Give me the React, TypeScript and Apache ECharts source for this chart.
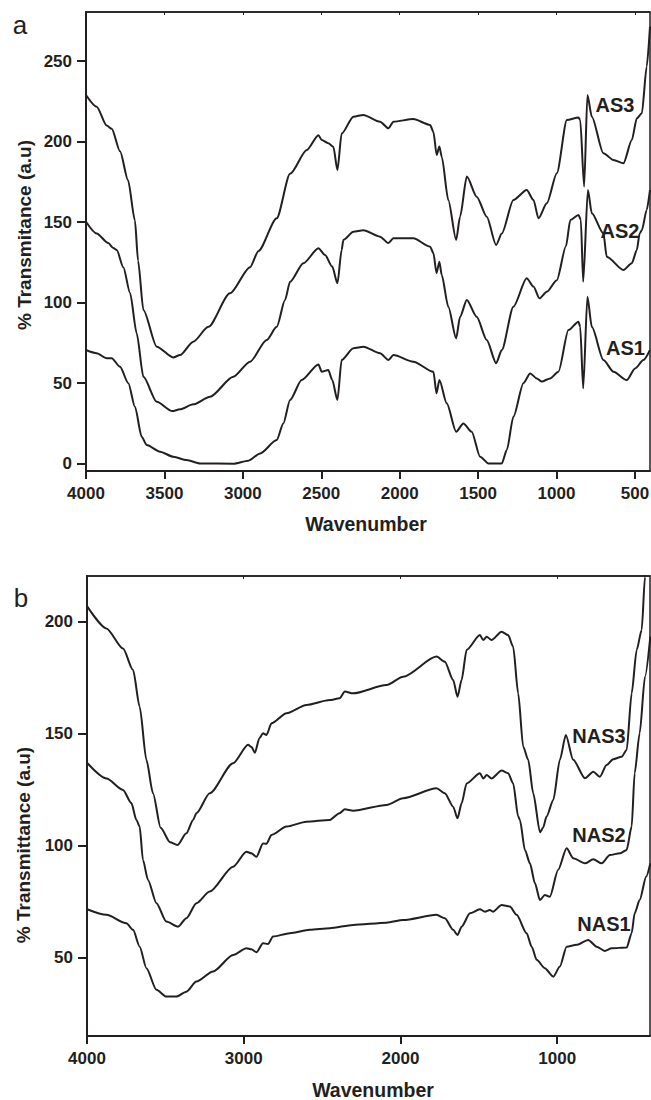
import React, { useEffect, useRef } from "react";
import * as echarts from "echarts";

// ---------- Panel a data (wavenumber, % transmittance) ----------
const as3Wn = [4000, 3932, 3868, 3836, 3783, 3732, 3688, 3668, 3634, 3549, 3444, 3400, 3316, 3220, 3082, 2954, 2901, 2784, 2699, 2592, 2518, 2497, 2455, 2423, 2397, 2370, 2295, 2232, 2125, 2072, 2040, 1913, 1806, 1785, 1764, 1747, 1732, 1690, 1640, 1615, 1572, 1509, 1445, 1385, 1349, 1275, 1190, 1147, 1115, 1062, 998, 934, 860, 849, 824, 803, 775, 701, 637, 573, 520, 488, 456, 425, 404];
const as3T = [229, 221.7, 210, 208, 194, 176, 151, 126, 95.5, 72.7, 66, 67.5, 75.8, 85, 105.8, 122, 132, 152.4, 180, 194.8, 204, 201, 199, 196.8, 182.4, 205, 215.5, 216.6, 212.4, 208.3, 212.4, 214, 210.4, 206, 191.7, 197, 190.7, 163.8, 139, 153.4, 178.3, 165.8, 153.4, 135.8, 143, 163.8, 170, 163.8, 152.4, 161.7, 180.4, 213.5, 215, 213.5, 172, 229, 215.5, 192.8, 188.6, 186.6, 201, 214.5, 217.6, 246.6, 271.4];

const as2Wn = [4000, 3932, 3858, 3826, 3804, 3762, 3719, 3677, 3634, 3549, 3450, 3401, 3316, 3209, 3061, 2954, 2848, 2784, 2731, 2699, 2614, 2518, 2476, 2430, 2397, 2370, 2359, 2295, 2232, 2125, 2072, 2040, 1913, 1806, 1785, 1765, 1747, 1732, 1690, 1640, 1615, 1572, 1509, 1445, 1385, 1349, 1275, 1190, 1147, 1109, 1062, 998, 940, 912, 860, 845, 830, 800, 775, 701, 680, 573, 520, 488, 470, 456, 425, 404];
const as2T = [150.3, 143, 137, 134, 132.7, 122, 106, 81, 54, 38.5, 32.7, 33.8, 36.9, 41.6, 54, 63.4, 76.8, 85, 101.7, 113, 124.5, 133.8, 129.6, 122.4, 112, 132.7, 139, 144, 145, 141, 137, 140, 140, 134.8, 130.7, 118.3, 125.5, 117.2, 97.5, 77.9, 91.3, 101.7, 91.3, 76.8, 62.4, 70.6, 97.5, 115.2, 110, 102.7, 106.8, 114, 135, 151.4, 154.5, 151.4, 113, 170, 155.5, 143, 128.6, 120.3, 124.5, 132.7, 143, 145, 157.6, 170];

const as1Wn = [4000, 3932, 3868, 3836, 3783, 3730, 3688, 3645, 3613, 3528, 3443, 3358, 3273, 3061, 2965, 2890, 2784, 2742, 2699, 2625, 2518, 2497, 2455, 2430, 2397, 2370, 2295, 2232, 2125, 2072, 2040, 1913, 1785, 1765, 1747, 1700, 1640, 1594, 1541, 1487, 1434, 1349, 1317, 1275, 1211, 1168, 1126, 1094, 1041, 988, 924, 860, 849, 830, 803, 775, 701, 637, 552, 499, 446, 404];
const as1T = [70.6, 68.6, 65.5, 65.5, 60.2, 50, 35.4, 16.8, 11.6, 7.5, 4.3, 2.3, 0.2, 0, 1.9, 6.4, 14.7, 25, 39.6, 52, 61.7, 57.1, 58.2, 52, 39.6, 64.4, 71.7, 72.7, 68.6, 64.4, 67.5, 63.4, 57.1, 43.7, 52, 37.5, 19.9, 25, 19.9, 4.3, 0.2, 0.2, 8.5, 29.2, 50, 56.1, 53, 51, 53, 57.1, 83, 88.2, 85, 46.8, 103.7, 85, 64.4, 57.1, 52, 59.2, 64.4, 70.6];

// ---------- Panel b data ----------
const nas3Wn = [4000, 3876, 3770, 3706, 3664, 3621, 3579, 3530, 3470, 3423, 3366, 3323, 3302, 3217, 3068, 2972, 2950, 2929, 2900, 2877, 2855, 2823, 2727, 2600, 2451, 2389, 2355, 2302, 2089, 1983, 1770, 1717, 1664, 1636, 1610, 1578, 1493, 1472, 1450, 1419, 1355, 1313, 1281, 1249, 1217, 1185, 1153, 1110, 1090, 1068, 1025, 983, 945, 898, 823, 770, 728, 685, 643, 589, 557, 525, 493, 461, 440, 425];
const nas3T = [207, 197, 188, 178.4, 162, 138.3, 123.4, 108, 101.5, 100.3, 105.5, 111.5, 114.5, 123.4, 136.8, 145, 144, 141.5, 148, 150.2, 149.4, 154.6, 159.1, 162.8, 165, 165.8, 168.8, 168, 171.7, 175.4, 184.4, 182.1, 174, 166.5, 174, 187.4, 194, 191.8, 193.3, 191.8, 195.5, 194, 188.8, 168, 144.2, 138.3, 123.4, 106, 108, 113, 120.4, 138.3, 149.4, 138.3, 130.1, 133, 130.8, 136, 138.6, 139.7, 142.7, 168, 187.4, 196.3, 220, 240];

const nas2Wn = [4000, 3876, 3770, 3717, 3685, 3664, 3643, 3611, 3557, 3494, 3419, 3366, 3302, 3217, 3068, 2983, 2951, 2919, 2877, 2855, 2823, 2727, 2600, 2451, 2389, 2355, 2302, 2089, 1983, 1770, 1717, 1664, 1636, 1610, 1578, 1493, 1472, 1450, 1419, 1355, 1313, 1281, 1249, 1238, 1206, 1174, 1142, 1110, 1079, 1047, 994, 940, 898, 823, 770, 716, 664, 600, 557, 525, 506, 474, 440, 406];
const nas2T = [137, 130, 124.9, 119, 111.5, 108.5, 93.6, 84.7, 74.3, 66.1, 63.8, 67.6, 74.3, 79.5, 90.6, 97.3, 96.6, 95, 101, 100.8, 104.8, 108.5, 110.7, 111.5, 114.5, 116.2, 115.6, 118.2, 121.2, 125.6, 123.4, 117.4, 112.2, 118.9, 127.8, 132.3, 130, 131.5, 130, 133.5, 132.3, 127.8, 113, 111.5, 98.1, 92.1, 83.2, 75.7, 78, 77.2, 89.2, 98.8, 94.4, 92.1, 93.9, 92.1, 95.8, 96.6, 98.1, 108.5, 132.3, 150.2, 175.4, 193.3];

const nas1Wn = [4000, 3876, 3749, 3706, 3664, 3621, 3557, 3494, 3430, 3366, 3302, 3196, 3068, 2983, 2951, 2919, 2877, 2845, 2813, 2706, 2578, 2451, 2302, 2089, 1983, 1770, 1717, 1664, 1636, 1610, 1557, 1493, 1461, 1430, 1410, 1355, 1302, 1259, 1195, 1163, 1131, 1079, 1025, 983, 940, 876, 802, 749, 697, 653, 557, 525, 506, 474, 432, 406];
const nas1T = [71.6, 69.1, 65.3, 62.4, 54.9, 45.3, 35.6, 32.6, 32.6, 34.8, 39.3, 43.8, 51.2, 54.2, 53.7, 52.4, 56.4, 56.1, 59.4, 60.9, 62.4, 63.1, 64.6, 65.6, 66.8, 69.1, 67.6, 62.4, 60.1, 63.8, 69.8, 71.6, 70.5, 71.3, 70.5, 73.5, 72.8, 69.1, 60.9, 54.9, 49, 45.3, 41.5, 46, 54.9, 55.7, 57.9, 54.9, 53, 54.2, 54.5, 60.9, 69.8, 75.7, 86.2, 92.1];

// ---------- Tick labels ----------
const xTicksA = [4000, 3500, 3000, 2500, 2000, 1500, 1000, 500];
const yTicksA = [0, 50, 100, 150, 200, 250];
const xTicksB = [4000, 3000, 2000, 1000];
const yTicksB = [50, 100, 150, 200];

const seriesLabelsA = ["AS3", "AS2", "AS1"];
const seriesLabelsB = ["NAS3", "NAS2", "NAS1"];

const INK = "#231f20";
const FONT = "'Liberation Sans', Arial, Helvetica, sans-serif";

const zip = (wn: number[], t: number[]) => wn.map((w, i) => [w, t[i]]);

function xAxisCfg(grid: number, min: number, ticks: number[], top: boolean) {
  return {
    gridIndex: grid,
    type: "value",
    min,
    max: 4000,
    inverse: true,
    position: top ? "top" : "bottom",
    axisLine: { show: true, onZero: false, lineStyle: { color: INK, width: top ? 1.5 : 2 } },
    axisTick: {
      show: true,
      inside: top,
      length: top ? 3 : 8,
      customValues: ticks,
      lineStyle: { color: INK, width: top ? 1 : 2 },
    },
    axisLabel: {
      show: !top,
      customValues: ticks,
      formatter: (v: number) => String(v),
      margin: 14,
      fontSize: 17,
      fontWeight: "bold",
      color: INK,
      fontFamily: FONT,
    },
    splitLine: { show: false },
  };
}

function yAxisCfg(grid: number, min: number, max: number, ticks: number[]) {
  return {
    gridIndex: grid,
    type: "value",
    min,
    max,
    axisLine: { show: true, onZero: false, lineStyle: { color: INK, width: 2 } },
    axisTick: { show: true, length: 9, customValues: ticks, lineStyle: { color: INK, width: 2 } },
    axisLabel: {
      customValues: ticks,
      formatter: (v: number) => String(v),
      margin: 14,
      fontSize: 17,
      fontWeight: "bold",
      color: INK,
      fontFamily: FONT,
    },
    splitLine: { show: false },
  };
}

function lineSeries(name: string, xi: number, yi: number, data: number[][]) {
  return {
    name,
    type: "line",
    xAxisIndex: xi,
    yAxisIndex: yi,
    data,
    showSymbol: false,
    symbol: "none",
    smooth: 0.25,
    smoothMonotone: "x",
    clip: true,
    lineStyle: { color: INK, width: 2 },
  };
}

function txt(text: string, x: number, y: number, size: number, bold: boolean, rotation = 0) {
  return {
    type: "text",
    x,
    y,
    rotation,
    style: {
      text,
      fill: INK,
      font: `${bold ? "bold " : ""}${size}px ${FONT}`,
      textAlign: "center",
      textVerticalAlign: "middle",
    },
  };
}

export default function App() {
  const ref = useRef<HTMLDivElement>(null);
  useEffect(() => {
    if (!ref.current) return;
    const chart = echarts.init(ref.current, undefined, { renderer: "svg" });
    const gridBase = {
      show: true,
      borderColor: INK,
      borderWidth: 1.5,
      backgroundColor: "transparent",
      containLabel: false,
      outerBoundsMode: "none",
    };
    const option: any = {
      animation: false,
      backgroundColor: "#ffffff",
      grid: [
        { ...gridBase, left: 86, top: 12, width: 564, height: 459 },
        { ...gridBase, left: 87, top: 576, width: 563, height: 460 },
      ],
      xAxis: [
        xAxisCfg(0, 404, xTicksA, false),
        xAxisCfg(0, 404, xTicksA, true),
        xAxisCfg(1, 408, xTicksB, false),
        xAxisCfg(1, 408, xTicksB, true),
      ],
      yAxis: [yAxisCfg(0, -4.5, 280.5, yTicksA), yAxisCfg(1, 15, 220.4, yTicksB)],
      series: [
        lineSeries("AS3", 0, 0, zip(as3Wn, as3T)),
        lineSeries("AS2", 0, 0, zip(as2Wn, as2T)),
        lineSeries("AS1", 0, 0, zip(as1Wn, as1T)),
        lineSeries("NAS3", 2, 1, zip(nas3Wn, nas3T)),
        lineSeries("NAS2", 2, 1, zip(nas2Wn, nas2T)),
        lineSeries("NAS1", 2, 1, zip(nas1Wn, nas1T)),
      ],
      graphic: [
        txt("a", 20, 25, 26, false),
        txt("b", 21, 598, 26, false),
        txt("% Transmitance (a.u)", 24, 235, 19, true, Math.PI / 2),
        txt("% Transmittance (a.u)", 23, 845, 19, true, Math.PI / 2),
        txt("Wavenumber", 366, 524, 19.5, true),
        txt("Wavenumber", 373, 1090, 19.5, true),
        txt(seriesLabelsA[0], 615, 104.5, 20, true),
        txt(seriesLabelsA[1], 620, 230.5, 20, true),
        txt(seriesLabelsA[2], 625.5, 347.5, 20, true),
        txt(seriesLabelsB[0], 599, 735.5, 20, true),
        txt(seriesLabelsB[1], 599, 834.5, 20, true),
        txt(seriesLabelsB[2], 604, 923.5, 20, true),
      ],
    };
    chart.setOption(option);
    return () => chart.dispose();
  }, []);
  return (
    <div
      ref={ref}
      style={{ position: "absolute", left: 0, top: 0, width: 651, height: 1100, background: "#fff" }}
    />
  );
}
